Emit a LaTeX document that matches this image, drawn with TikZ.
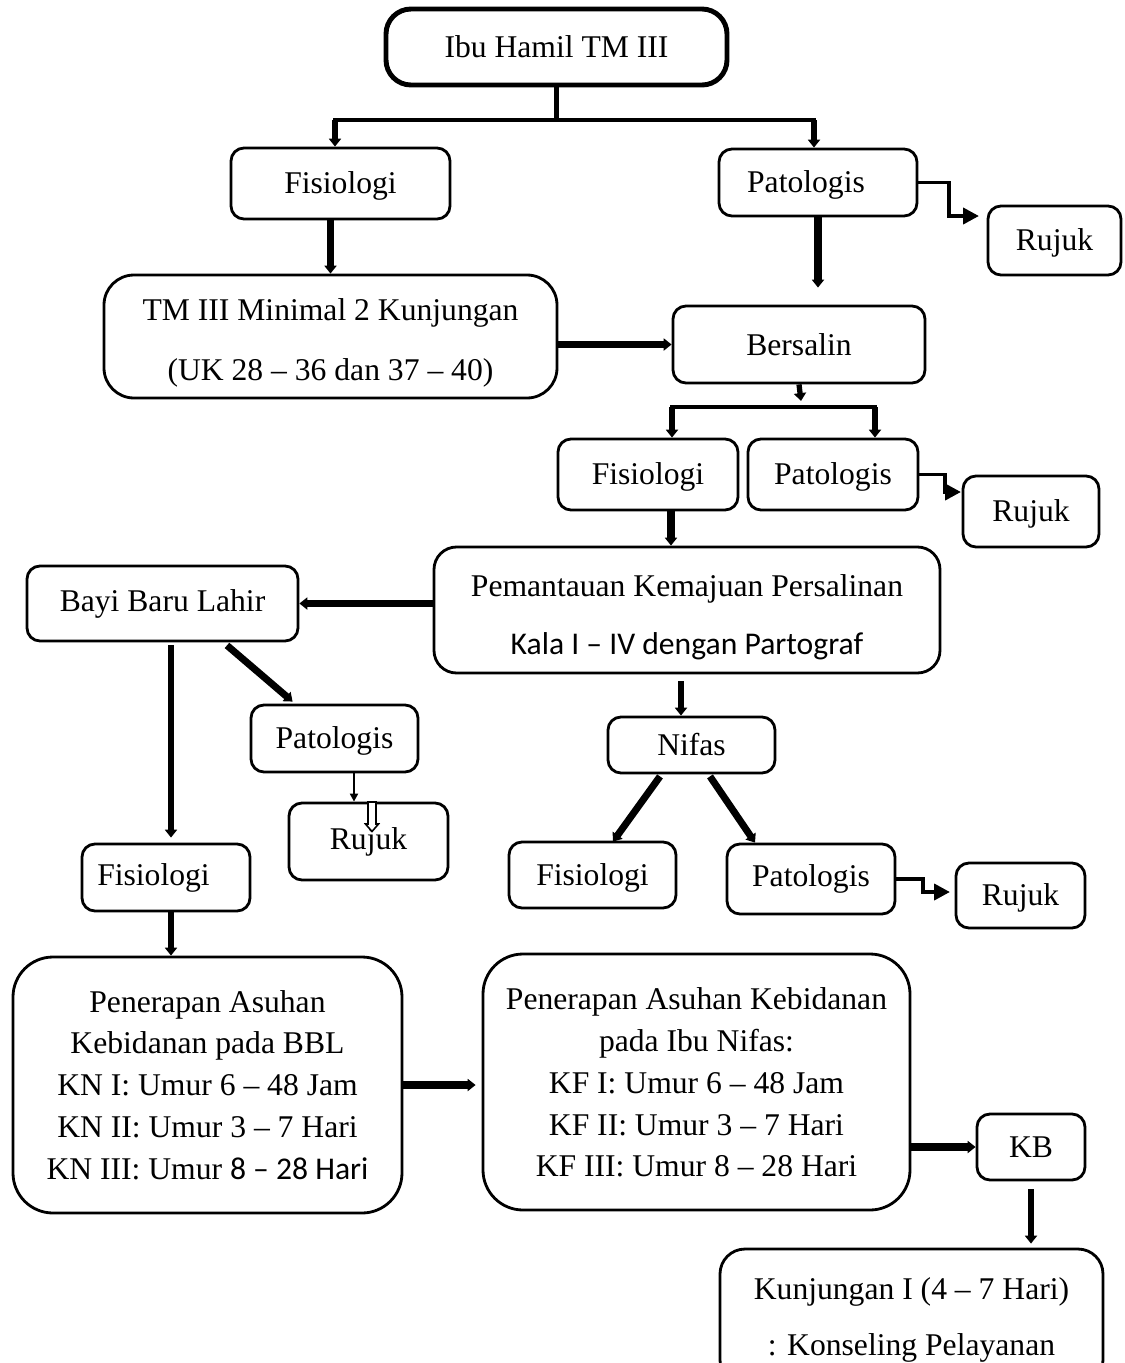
\documentclass[tikz,border=0pt]{standalone}
\usepackage{fontspec}
\setmainfont{Liberation Serif}
\newfontfamily\calfont{Carlito}
\usetikzlibrary{arrows.meta,calc}
\newcommand\txtdown[2]{\raisebox{-#1}[\height][\depth]{\begin{tabular}{@{}c@{}}#2\end{tabular}}}
\begin{document}
\begin{tikzpicture}[x=0.02cm,y=-0.02cm,
  every node/.style={font=\fontsize{18}{22}\selectfont},
  box/.style={draw, line width=1.6pt, rounded corners=0.26cm, inner sep=0pt, align=center},
  sl/.style={text height=15.5pt, text depth=4pt},
  wh/.style 2 args={minimum width=#1*0.02cm, minimum height=#2*0.02cm},
  ar/.style={line width=#1, -{Triangle[width=6.8pt,length=4.5pt]}},
  elb/.style={line width=2.2pt, line join=miter, -{Triangle[width=9pt,length=9pt]}},
  thinar/.style={line width=1.4pt, -{Triangle[width=4.5pt,length=4.5pt]}}
]
\useasboundingbox (0,0) rectangle (1125,1363);
\clip (0,0) rectangle (1125,1363);

% nodes
\node[box, wh={341}{76}, line width=2.8pt, rounded corners=0.5cm] (top) at (556.5,47) {Ibu Hamil TM III};
\node[box, sl, wh={219}{71}] (fis1) at (340.5,183.5) {Fisiologi};
\node[box, sl, wh={198}{67}] (pat1) at (818,182.5) {Patologis\hspace*{0.48cm}};
\node[box, sl, wh={133}{69}] (ruj1) at (1054.5,240.5) {Rujuk};
\node[box, wh={453}{123}, rounded corners=0.6cm] (tm) at (330.5,336.5) {\txtdown{3.4pt}{TM III Minimal 2 Kunjungan\\[12pt](UK 28 – 36 dan 37 – 40)}};
\node[box, wh={252}{77}] (bers) at (799,344.5) {Bersalin};
\node[box, sl, wh={180}{71}] (fis2) at (648,474.5) {Fisiologi};
\node[box, sl, wh={170}{71}] (pat2) at (833,474.5) {Patologis};
\node[box, sl, wh={136}{71}] (ruj2) at (1031,511.5) {Rujuk};
\node[box, wh={506}{126}, rounded corners=0.45cm] (pem) at (687,610) {\txtdown{4.5pt}{Pemantauan Kemajuan Persalinan\\[11pt]{\calfont Kala I – IV dengan Partograf}}};
\node[box, wh={271}{75}] (bayi) at (162.5,603.5) {Bayi Baru Lahir};
\node[box, sl, wh={167}{67}] (pat3) at (334.5,738.5) {Patologis};
\node[box, wh={159}{77}] (ruj3) at (368.5,841.5) {Rujuk};
\node[box, wh={168}{67}] (fis3) at (166,877.5) {Fisiologi\hspace*{0.5cm}};
\node[box, sl, wh={167}{56}] (nifas) at (691.5,745) {Nifas};
\node[box, sl, wh={167}{66}] (fis4) at (592.5,875) {Fisiologi};
\node[box, wh={168}{70}] (pat4) at (811,879) {Patologis};
\node[box, sl, wh={129}{65}] (ruj4) at (1020.5,895.5) {Rujuk};
\node[box, wh={389}{256}, rounded corners=0.8cm, font=\fontsize{18}{23.8}\selectfont] (bbl) at (207.5,1085)
  {Penerapan Asuhan\\Kebidanan pada BBL\\KN I: Umur 6 – 48 Jam\\KN II: Umur 3 – 7 Hari\\KN III: Umur {\calfont 8 – 28 Hari}};
\node[box, wh={427}{256}, rounded corners=0.8cm, font=\fontsize{18}{23.8}\selectfont] (kf) at (696.5,1082)
  {\txtdown{1.7pt}{Penerapan Asuhan Kebidanan\\pada Ibu Nifas:\\KF I: Umur 6 – 48 Jam\\KF II: Umur 3 – 7 Hari\\KF III: Umur 8 – 28 Hari}};
\node[box, wh={108}{66}] (kb) at (1031,1147) {KB};
\node[box, wh={383}{136}, rounded corners=0.5cm] (kunj) at (911.5,1317) {\txtdown{1.5pt}{Kunjungan I (4 – 7 Hari)\\[10pt]: Konseling Pelayanan}};

% connectors
\coordinate (j0) at (556.5,120);
\draw[line width=3.4pt] (top.south) -- (j0);
\coordinate (jL) at (335,120);
\coordinate (jR) at (814,120);
\draw[line width=2.3pt, line cap=rect] (jL) -- (jR);
\draw[ar=3.6pt] (jL) -- (jL |- fis1.north);
\draw[ar=3.6pt] (jR) -- (jR |- pat1.north);

\coordinate (r1) at (979,216);
\draw[elb] (pat1.east) -- ++(31,0) |- (r1);

\draw[ar=4pt] (tm.north |- fis1.south) -- (tm.north);
\draw[ar=4pt, shorten >=0.34cm] (pat1.south) -- (pat1.south |- bers.north);
\draw[ar=4.5pt] (tm.east |- bers.west) -- (bers.west);

\coordinate (j2) at (801,401);
\draw[ar=3pt] (bers.south) -- (j2);
\coordinate (jL2) at (672,407);
\coordinate (jR2) at (875,407);
\draw[line width=2.3pt, line cap=rect] (jL2) -- (jR2);
\draw[ar=3.4pt] (jL2) -- (jL2 |- fis2.north);
\draw[ar=3.4pt] (jR2) -- (jR2 |- pat2.north);

\coordinate (r2) at (961,492);
\draw[elb] (pat2.east) -- ++(26,0) |- (r2);

\coordinate (f2s) at ([xshift=0.46cm]fis2.south);
\draw[ar=4pt] (f2s) -- (f2s |- pem.north);

\draw[ar=4.5pt] (pem.west |- bayi.east) -- (bayi.east);
\coordinate (pms) at ([xshift=-0.12cm]pem.south);
\draw[ar=3.6pt, shorten <=0.14cm] (pms) -- (pms |- nifas.north);

\coordinate (b3) at ([xshift=0.17cm]bayi.south);
\draw[ar=3pt, shorten <=0.06cm, shorten >=0.1cm] (b3) -- (b3 |- fis3.north);
\draw[ar=4pt] ([xshift=1.29cm,yshift=-0.06cm]bayi.south) -- ([xshift=0.86cm,yshift=0.04cm]pat3.north west);

\coordinate (p3s) at ([xshift=0.39cm]pat3.south);
\draw[thinar] (p3s) -- (p3s |- ruj3.north);
\draw[line width=0.9pt, fill=white] (368,802) -- (368,824) -- (365.5,824) -- (372,831.5) -- (378.5,824) -- (376,824) -- (376,802) -- cycle;

\draw[ar=4pt] ([xshift=-0.63cm,yshift=-0.04cm]nifas.south) -- ([xshift=0.41cm,yshift=-0.02cm]fis4.north);
\draw[ar=4pt] ([xshift=0.37cm,yshift=-0.04cm]nifas.south) -- ([xshift=-1.12cm]pat4.north);

\coordinate (r4) at (950,892);
\draw[elb] (pat4.east) -- ++(27,0) |- (r4);

\draw[ar=3.6pt] (b3 |- fis3.south) -- (b3 |- bbl.north);
\draw[ar=4.5pt, shorten >=0.12cm] (bbl.east) -- (kf.west |- bbl.east);
\draw[ar=4.5pt] (kf.east |- kb.west) -- (kb.west);
\draw[ar=3.4pt, shorten <=0.16cm, shorten >=0.08cm] (kb.south) -- (kb.south |- kunj.north);
\end{tikzpicture}
\end{document}
